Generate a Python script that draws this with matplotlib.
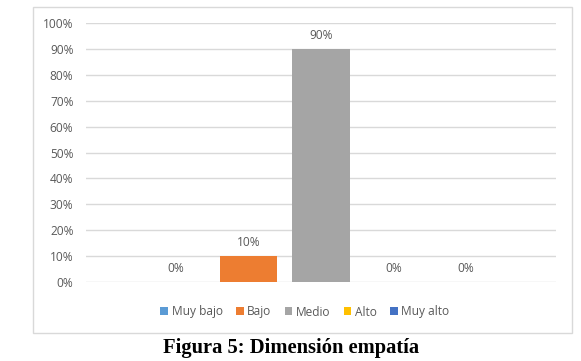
import matplotlib
matplotlib.use("Agg")
import matplotlib.pyplot as plt
from matplotlib.patches import Rectangle

series = ["Muy bajo", "Bajo", "Medio", "Alto", "Muy alto"]
values = [0, 10, 90, 0, 0]
colors = ["#5B9BD5", "#ED7D31", "#A5A5A5", "#FFC000", "#4472C4"]
yticks = [0, 10, 20, 30, 40, 50, 60, 70, 80, 90, 100]
caption = "Figura 5: Dimensión empatía"

txt = "#595959"
plt.rcParams['font.family'] = ['Open Sans', 'DejaVu Sans']
fs = 8.6

fig = plt.figure(figsize=(5.81, 3.61), dpi=100)
fig.patch.set_facecolor("white")
fig.patches.append(Rectangle((33/581, 1 - 333/361), 539/581, 326/361,
                             transform=fig.transFigure, fill=False,
                             edgecolor="#D9D9D9", linewidth=1.0))

ax = fig.add_axes([86/581, 1 - 282/361, 470/581, 259/361])
for i, (name, v, c) in enumerate(zip(series, values, colors)):
    ax.bar(i, v, width=0.786, color=c, label=name, zorder=3)
    ax.annotate(f"{v}%", (i, v), xytext=(0, 10), textcoords="offset points",
                ha="center", va="center", fontsize=fs, color=txt)

ax.set_xlim(-1.24, 5.24)
ax.set_ylim(0, 100)
ax.set_yticks(yticks)
ax.set_yticklabels([f"{t}%" for t in yticks], fontsize=fs, color=txt)
ax.set_xticks([])
ax.tick_params(axis="y", length=0, pad=9)
ax.grid(axis="y", color="#D9D9D9", linewidth=1.0, zorder=0)
for s in ax.spines.values():
    s.set_visible(False)

fig.legend(loc="center", bbox_to_anchor=(305/581, 1 - 312/361), ncol=5,
           frameon=False, fontsize=fs, handlelength=0.65, handleheight=0.65,
           handletextpad=0.3, columnspacing=1.1, labelcolor=txt)

fig.text(291/581, 1 - 348/361, caption, ha="center", va="center",
         fontsize=14.8, fontweight="bold", family="Liberation Serif")

fig.savefig("out.png", dpi=100)
